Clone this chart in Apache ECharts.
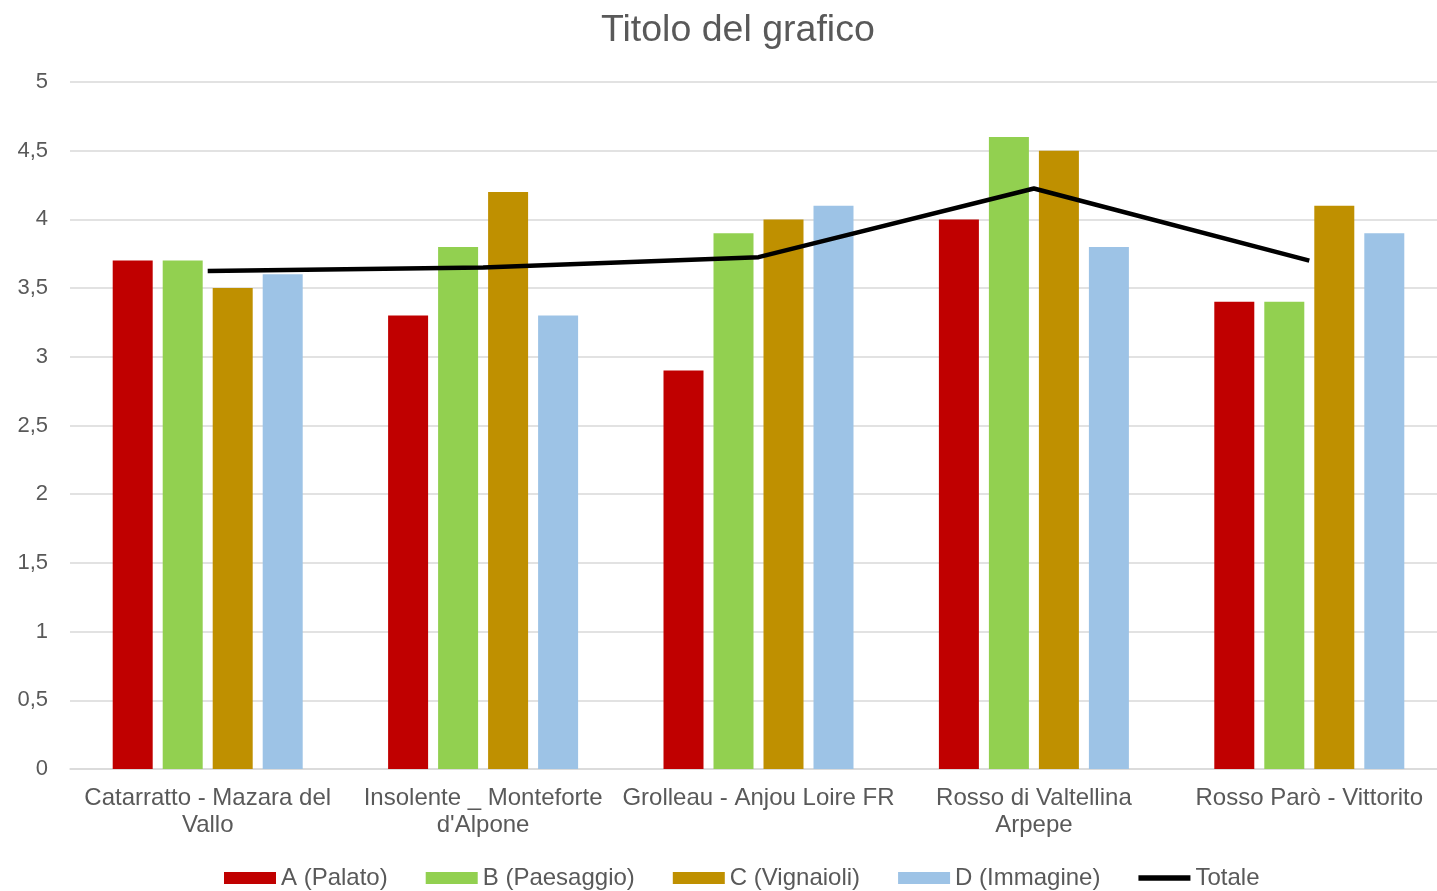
<!DOCTYPE html>
<html><head><meta charset="utf-8">
<script src="https://cdn.jsdelivr.net/npm/echarts@6/dist/echarts.min.js"></script>
<style>html,body{margin:0;padding:0;background:#fff}#c{width:1437px;height:891px}</style>
</head><body><div id="c"></div>
<script>
const categories = ["Catarratto - Mazara del\nVallo", "Insolente _ Monteforte\nd'Alpone", "Grolleau - Anjou Loire FR", "Rosso di Valtellina\nArpepe", "Rosso Parò - Vittorito"];
const seriesA = [3.7, 3.3, 2.9, 4.0, 3.4];
const seriesB = [3.7, 3.8, 3.9, 4.6, 3.4];
const seriesC = [3.5, 4.2, 4.0, 4.5, 4.1];
const seriesD = [3.6, 3.3, 4.1, 3.8, 3.9];
const totale = [3.625, 3.65, 3.725, 4.225, 3.7];
const names = ["A (Palato)", "B (Paesaggio)", "C (Vignaioli)", "D (Immagine)", "Totale"];
const colors = ["#C00000", "#92D050", "#BF9000", "#9DC3E6", "#000000"];
const FONT = "Liberation Sans, Arial, sans-serif";
const TXT = "#595959";

const chart = echarts.init(document.getElementById('c'), null, {renderer: 'canvas'});
const bars = [seriesA, seriesB, seriesC, seriesD].map((d, i) => ({
  name: names[i], type: 'bar', data: d, barWidth: 40, barGap: '25%',
  itemStyle: {color: colors[i]}, emphasis: {disabled: true}
}));
chart.setOption({
  animation: false,
  title: {text: 'Titolo del grafico', left: 596, top: 7,
    textStyle: {fontFamily: FONT, fontSize: 37.5, fontWeight: 'normal', color: TXT}},
  grid: {left: 70, top: 82, width: 1377, height: 687, containLabel: false, outerBoundsMode: 'none'},
  legend: {
    data: names.map((n, i) => i < 4 ? {name: n, icon: 'rect'} : {name: n, icon: 'path://M0,0 L48,0 L48,5 L0,5 Z'}),
    left: 219, top: 861, itemWidth: 52, itemHeight: 12, itemGap: 38,
    textStyle: {fontFamily: FONT, fontSize: 24, color: TXT}
  },
  xAxis: {
    type: 'category', data: categories,
    axisLine: {lineStyle: {color: '#D9D9D9', width: 1.5}},
    axisTick: {show: false},
    axisLabel: {fontFamily: FONT, fontSize: 24, color: TXT, margin: 16, lineHeight: 27, interval: 0}
  },
  yAxis: {
    type: 'value', min: 0, max: 5, interval: 0.5,
    axisLabel: {fontFamily: FONT, fontSize: 22, color: TXT, margin: 22,
      formatter: v => String(v).replace('.', ',')},
    splitLine: {lineStyle: {color: '#D9D9D9', width: 1.5}},
    axisLine: {show: false}, axisTick: {show: false}
  },
  series: bars.concat([{
    name: names[4], type: 'line', data: totale, symbol: 'none',
    lineStyle: {color: '#000', width: 4.5}, itemStyle: {color: '#000'}, z: 5
  }])
});
</script></body></html>
